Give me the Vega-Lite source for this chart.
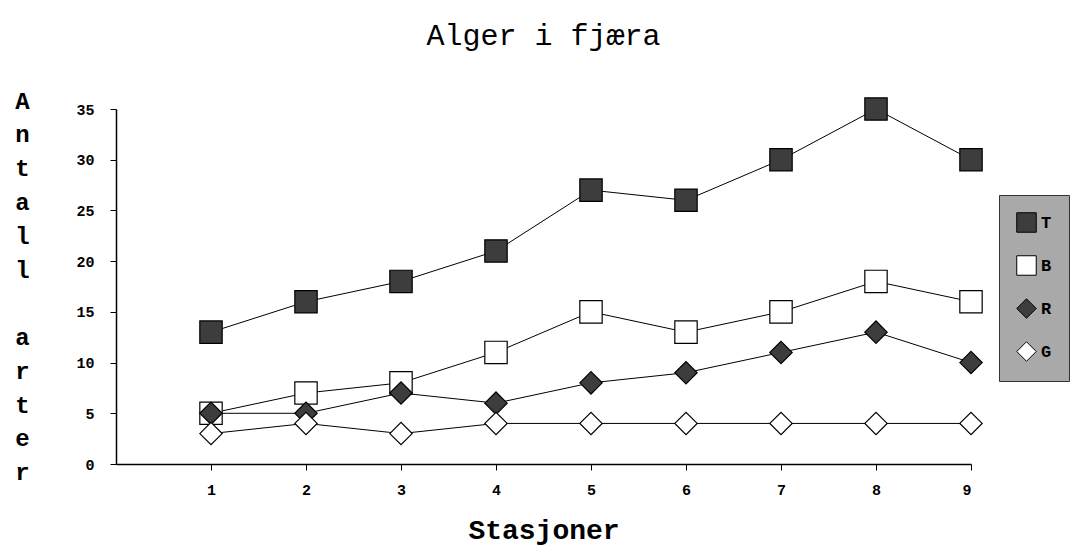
{
  "$schema": "https://vega.github.io/schema/vega-lite/v6.json",
  "width": 855,
  "height": 355,
  "autosize": {"type": "none"},
  "padding": {"left": 116, "top": 109, "right": 100, "bottom": 81},
  "background": "white",
  "title": {
    "text": "Alger i fjæra",
    "font": "Liberation Mono",
    "fontSize": 30,
    "fontWeight": "normal",
    "color": "black",
    "anchor": "middle",
    "baseline": "alphabetic",
    "offset": 14,
    "frame": "group"
  },
  "data": {
    "values": [
      {"serie": "T", "stasjon": 1, "arter": 13},
      {"serie": "T", "stasjon": 2, "arter": 16},
      {"serie": "T", "stasjon": 3, "arter": 18},
      {"serie": "T", "stasjon": 4, "arter": 21},
      {"serie": "T", "stasjon": 5, "arter": 27},
      {"serie": "T", "stasjon": 6, "arter": 26},
      {"serie": "T", "stasjon": 7, "arter": 30},
      {"serie": "T", "stasjon": 8, "arter": 35},
      {"serie": "T", "stasjon": 9, "arter": 30},
      {"serie": "B", "stasjon": 1, "arter": 5},
      {"serie": "B", "stasjon": 2, "arter": 7},
      {"serie": "B", "stasjon": 3, "arter": 8},
      {"serie": "B", "stasjon": 4, "arter": 11},
      {"serie": "B", "stasjon": 5, "arter": 15},
      {"serie": "B", "stasjon": 6, "arter": 13},
      {"serie": "B", "stasjon": 7, "arter": 15},
      {"serie": "B", "stasjon": 8, "arter": 18},
      {"serie": "B", "stasjon": 9, "arter": 16},
      {"serie": "R", "stasjon": 1, "arter": 5},
      {"serie": "R", "stasjon": 2, "arter": 5},
      {"serie": "R", "stasjon": 3, "arter": 7},
      {"serie": "R", "stasjon": 4, "arter": 6},
      {"serie": "R", "stasjon": 5, "arter": 8},
      {"serie": "R", "stasjon": 6, "arter": 9},
      {"serie": "R", "stasjon": 7, "arter": 11},
      {"serie": "R", "stasjon": 8, "arter": 13},
      {"serie": "R", "stasjon": 9, "arter": 10},
      {"serie": "G", "stasjon": 1, "arter": 3},
      {"serie": "G", "stasjon": 2, "arter": 4},
      {"serie": "G", "stasjon": 3, "arter": 3},
      {"serie": "G", "stasjon": 4, "arter": 4},
      {"serie": "G", "stasjon": 5, "arter": 4},
      {"serie": "G", "stasjon": 6, "arter": 4},
      {"serie": "G", "stasjon": 7, "arter": 4},
      {"serie": "G", "stasjon": 8, "arter": 4},
      {"serie": "G", "stasjon": 9, "arter": 4}
    ]
  },
  "encoding": {
    "x": {
      "field": "stasjon",
      "type": "quantitative",
      "scale": {"domain": [0, 9], "nice": false, "zero": false},
      "axis": {
        "values": [1, 2, 3, 4, 5, 6, 7, 8, 9],
        "grid": false,
        "tickSize": 6,
        "labelPadding": 12,
        "labelFont": "Liberation Mono",
        "labelFontSize": 15,
        "labelFontWeight": "bold",
        "labelColor": "black",
        "domainColor": "black",
        "domainWidth": 1.5,
        "tickColor": "black",
        "title": "Stasjoner",
        "titleFont": "Liberation Mono",
        "titleFontSize": 28,
        "titleFontWeight": "bold",
        "titleColor": "black",
        "titlePadding": 19
      }
    },
    "y": {
      "field": "arter",
      "type": "quantitative",
      "scale": {"domain": [0, 35], "nice": false},
      "axis": {
        "values": [0, 5, 10, 15, 20, 25, 30, 35],
        "grid": false,
        "tickSize": 6,
        "labelPadding": 16,
        "labelFont": "Liberation Mono",
        "labelFontSize": 15,
        "labelFontWeight": "bold",
        "labelColor": "black",
        "domainColor": "black",
        "domainWidth": 1.5,
        "tickColor": "black",
        "title": ["A", "n", "t", "a", "l", "l", "\u200b", "a", "r", "t", "e", "r"],
        "titleAngle": 0,
        "titleX": -94,
        "titleY": -20,
        "titleAlign": "center",
        "titleBaseline": "top",
        "titleFont": "Liberation Mono",
        "titleFontSize": 24,
        "titleFontWeight": "bold",
        "titleColor": "black",
        "titleLineHeight": 33.8
      }
    }
  },
  "layer": [
    {
      "mark": {"type": "line", "color": "black", "strokeWidth": 1},
      "encoding": {"detail": {"field": "serie", "type": "nominal"}}
    },
    {
      "mark": {"type": "point", "filled": true, "stroke": "black", "strokeWidth": 1.2, "size": 500, "opacity": 1},
      "encoding": {
        "shape": {
          "field": "serie",
          "type": "nominal",
          "scale": {"domain": ["T", "B", "R", "G"], "range": ["square", "square", "diamond", "diamond"]},
          "legend": {
            "orient": "none",
            "legendX": 883,
            "legendY": 86,
            "title": null,
            "fillColor": "#a9a9a9",
            "strokeColor": "#333333",
            "padding": 17,
            "symbolSize": 380,
            "symbolStrokeWidth": 1,
            "labelFont": "Liberation Mono",
            "labelFontSize": 17,
            "labelFontWeight": "bold",
            "labelColor": "black",
            "rowPadding": 18
          }
        },
        "fill": {
          "field": "serie",
          "type": "nominal",
          "scale": {"domain": ["T", "B", "R", "G"], "range": ["#3d3d3d", "#ffffff", "#3d3d3d", "#ffffff"]},
          "legend": {
            "orient": "none",
            "legendX": 883,
            "legendY": 86,
            "title": null,
            "fillColor": "#a9a9a9",
            "strokeColor": "#333333",
            "padding": 17,
            "symbolSize": 380,
            "symbolStrokeWidth": 1,
            "labelFont": "Liberation Mono",
            "labelFontSize": 17,
            "labelFontWeight": "bold",
            "labelColor": "black",
            "rowPadding": 18
          }
        }
      }
    }
  ],
  "config": {"view": {"stroke": null}}
}
